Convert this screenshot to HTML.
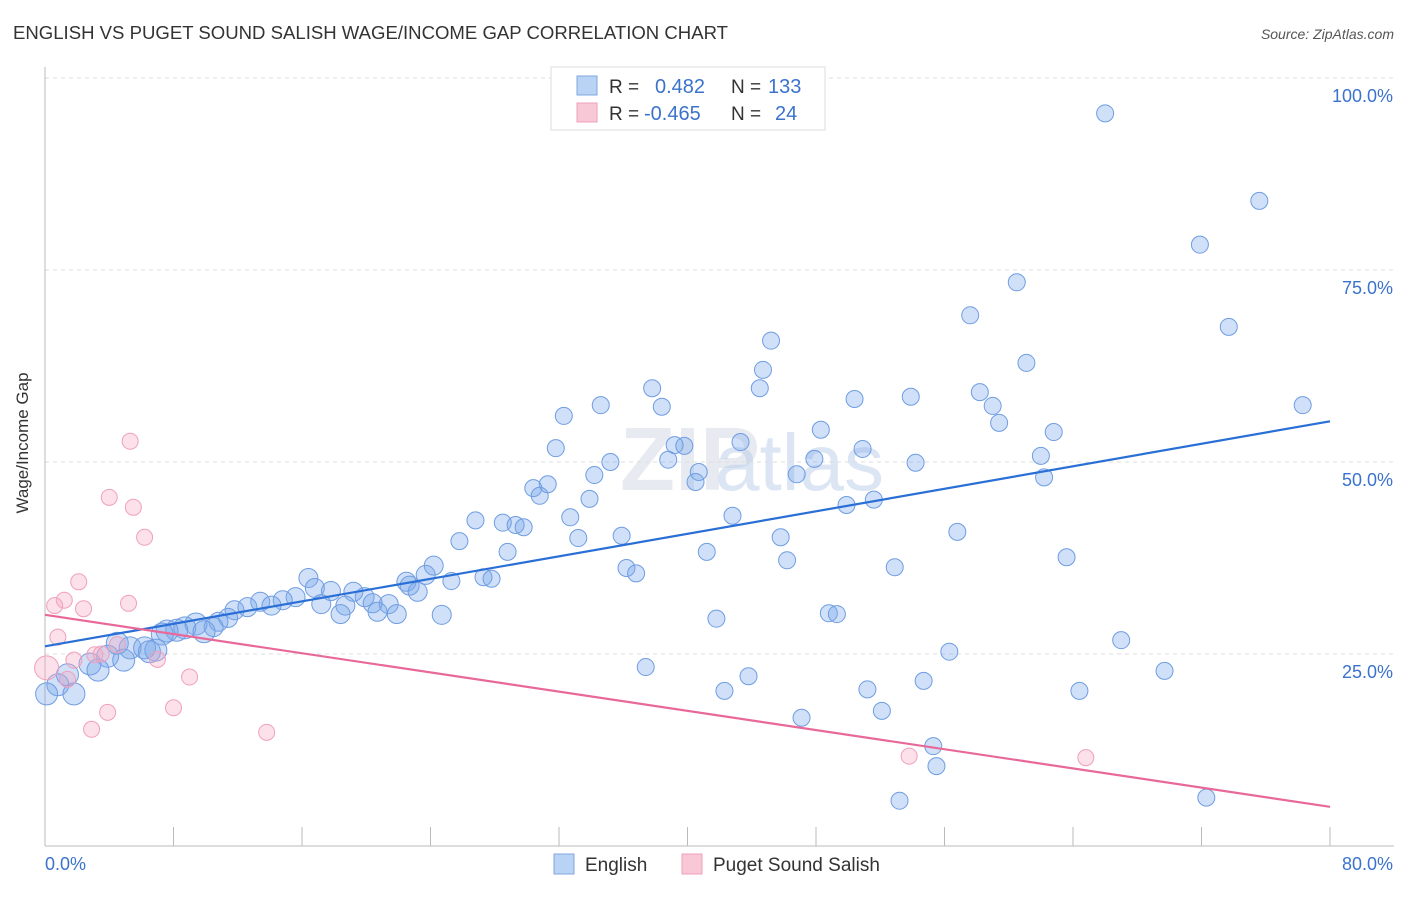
<!DOCTYPE html>
<html><head><meta charset="utf-8"><style>
body{margin:0;background:#fff;font-family:"Liberation Sans",sans-serif;}
svg text{font-family:"Liberation Sans",sans-serif;}
</style></head><body>
<svg id="chart" width="1406" height="892" xmlns="http://www.w3.org/2000/svg">
<text x="13" y="39" font-size="18" fill="#333" textLength="715" lengthAdjust="spacingAndGlyphs">ENGLISH VS PUGET SOUND SALISH WAGE/INCOME GAP CORRELATION CHART</text>
<text x="1394" y="39" font-size="14" fill="#555" text-anchor="end" font-style="italic">Source: ZipAtlas.com</text>
<text x="620" y="490" font-size="90" fill="#d0d8e4" opacity="0.5" font-weight="bold" font-family="Liberation Serif">ZIP</text>
<text x="715" y="490" font-size="80" fill="#b8cce8" opacity="0.5">atlas</text>
<g id="grid"></g>
<g id="axes"></g>
<g id="pts"></g>
<g id="lines"></g>
<text x="40" y="455" font-size="17" fill="#333" text-anchor="middle" transform="rotate(-90 28 455)">Wage/Income Gap</text>
<g>
<rect x="551" y="67" width="274" height="63" fill="#fff" stroke="#ddd"/>
<rect x="577" y="76" width="20" height="19" fill="#b9d3f5" stroke="#7fa7e0"/>
<rect x="577" y="103" width="20" height="19" fill="#f9c8d6" stroke="#f0a0bb"/>
<text x="609" y="93" font-size="19" fill="#333">R =</text>
<text x="655" y="93" font-size="20" fill="#3b73cc">0.482</text>
<text x="731" y="93" font-size="19" fill="#333">N =</text>
<text x="768" y="93" font-size="20" fill="#3b73cc">133</text>
<text x="609" y="120" font-size="19" fill="#333">R =</text>
<text x="644" y="120" font-size="20" fill="#3b73cc">-0.465</text>
<text x="731" y="120" font-size="19" fill="#333">N =</text>
<text x="775" y="120" font-size="20" fill="#3b73cc">24</text>
</g>
<g>
<rect x="554" y="854" width="20" height="20" fill="#b9d3f5" stroke="#7fa7e0"/>
<text x="585" y="871" font-size="19" fill="#333">English</text>
<rect x="682" y="854" width="20" height="20" fill="#f9c8d6" stroke="#f0a0bb"/>
<text x="713" y="871" font-size="19" fill="#333">Puget Sound Salish</text>
</g>
</svg>
<script>
const blueX=[66.0,75.6,71.9,60.5,57.6,73.7,45.2,61.1,44.7,37.8,44.5,58.2,34.6,53.9,50.4,59.0,78.3,38.4,32.3,59.4,48.3,62.8,43.3,31.8,39.2,39.8,50.9,38.8,47.9,35.2,54.2,62.0,40.7,34.2,46.8,62.2,40.5,31.3,30.4,30.8,33.9,49.9,51.6,26.8,42.8,32.7,28.5,29.3,29.8,56.8,25.8,33.2,35.9,45.8,28.8,41.2,46.2,52.9,63.6,24.2,36.2,36.8,23.7,22.5,25.3,27.3,27.8,16.4,16.8,22.7,23.2,17.8,19.2,19.9,20.4,21.4,15.6,14.8,13.4,14.1,17.2,18.7,20.7,21.9,18.4,24.7,48.8,49.3,11.8,12.6,11.4,10.8,10.5,9.4,8.7,8.2,7.6,7.3,9.9,41.8,67.0,56.3,4.5,5.3,3.9,6.2,6.9,6.5,4.9,37.4,2.8,1.4,69.7,43.8,54.7,3.3,0.8,42.3,51.2,64.4,0.1,1.8,52.1,47.1,55.3,55.5,53.2,72.3];
const blueY=[95.4,84.0,78.3,73.4,69.1,67.6,65.8,62.9,62.0,59.6,59.6,59.1,57.4,58.5,58.2,57.3,57.4,57.2,56.0,55.1,54.2,53.9,52.6,51.8,52.2,52.1,51.7,50.3,50.4,50.0,49.9,50.8,48.7,48.3,48.4,48.0,47.4,47.1,46.6,45.6,45.2,44.4,45.1,42.4,43.0,42.8,42.1,41.8,41.5,40.9,39.7,40.1,40.4,40.2,38.3,38.3,37.2,36.3,37.6,36.5,36.2,35.5,35.3,34.4,34.5,35.0,34.8,34.9,33.6,33.9,33.1,33.2,33.1,32.4,31.6,31.5,32.4,32.0,31.8,31.3,31.5,31.3,30.5,30.2,30.2,30.1,30.3,30.2,30.7,31.1,29.7,29.2,28.5,28.9,28.4,28.1,28.0,27.6,27.9,29.6,26.8,25.3,26.4,25.8,24.7,25.8,25.5,25.3,24.2,23.3,23.7,22.3,22.8,22.1,21.5,22.9,21.0,20.2,20.4,20.2,19.8,19.8,17.6,16.7,13.0,10.4,5.9,6.3];
const pinkX=[5.3,4.0,5.5,6.2,2.1,1.2,0.6,2.4,5.2,0.8,4.5,3.1,1.8,7.0,3.5,1.4,9.0,0.1,3.9,8.0,2.9,13.8,53.8,64.8];
const pinkY=[52.7,45.4,44.1,40.2,34.4,32.0,31.3,30.9,31.6,27.2,26.2,24.9,24.2,24.3,25.0,21.7,22.0,23.2,17.4,18.0,15.2,14.8,11.7,11.5];
const trendStart=[26.0,30.1];
const trendEnd=[55.3,5.1];
const xTicks=[0,8,16,24,32,40,48,56,64,72,80];
const yTicks=[25,50,75,100];
const xLabels=["0.0%","80.0%"];
const NS="http://www.w3.org/2000/svg";
const X=v=>45+v*(1285/80);
const Y=v=>846-v*7.68;
function mk(t,a,p){const e=document.createElementNS(NS,t);for(const k in a)e.setAttribute(k,a[k]);p.appendChild(e);return e;}
const grid=document.getElementById('grid'),axes=document.getElementById('axes'),pts=document.getElementById('pts'),lines=document.getElementById('lines');
yTicks.forEach(t=>{
 const l=mk('line',{x1:45,x2:1394,y1:Y(t),y2:Y(t),stroke:'#ddd','stroke-dasharray':'4,4'},grid);
 
 
 const tx=mk('text',{x:1393,y:Y(t)+24,'font-size':18,fill:'#3b73cc','text-anchor':'end'},axes);
 tx.textContent=t.toFixed(1)+'%';
 
 
});
const al=mk('line',{x1:45,x2:45,y1:67,y2:846,stroke:'#bbb'},axes);


const bl=mk('line',{x1:45,x2:1394,y1:846,y2:846,stroke:'#bbb'},axes);


xTicks.forEach(t=>{
 const l=mk('line',{x1:X(t),x2:X(t),y1:827,y2:846,stroke:'#bbb'},axes);
 
 
});
const xl0=mk('text',{x:45,y:870,'font-size':18,fill:'#3b73cc'},axes);
xl0.textContent=xLabels[0];


const xl1=mk('text',{x:1393,y:870,'font-size':18,fill:'#3b73cc','text-anchor':'end'},axes);
xl1.textContent=xLabels[1];


blueX.forEach((v,i)=>{
 const r=v<10?11:(v<25?9.5:8.5);
 const c=mk('circle',{cx:X(v),cy:Y(blueY[i]),r:r,fill:'rgba(120,165,235,0.35)',stroke:'#6f9de2','stroke-width':1},pts);
 
 
});
pinkX.forEach((v,i)=>{
 const c=mk('circle',{cx:X(v),cy:Y(pinkY[i]),r:i==17?12:8,fill:'rgba(245,170,195,0.35)',stroke:'#f0a0bb','stroke-width':1},pts);
 
 
});
const cols=['#2a6fd6','#e8689a'];
trendStart.forEach((s,i)=>{
 const l=mk('line',{x1:X(0),y1:Y(s),x2:X(80),y2:Y(trendEnd[i]),stroke:cols[i],'stroke-width':2.2},lines);
 
 
});
</script>
</body></html>
